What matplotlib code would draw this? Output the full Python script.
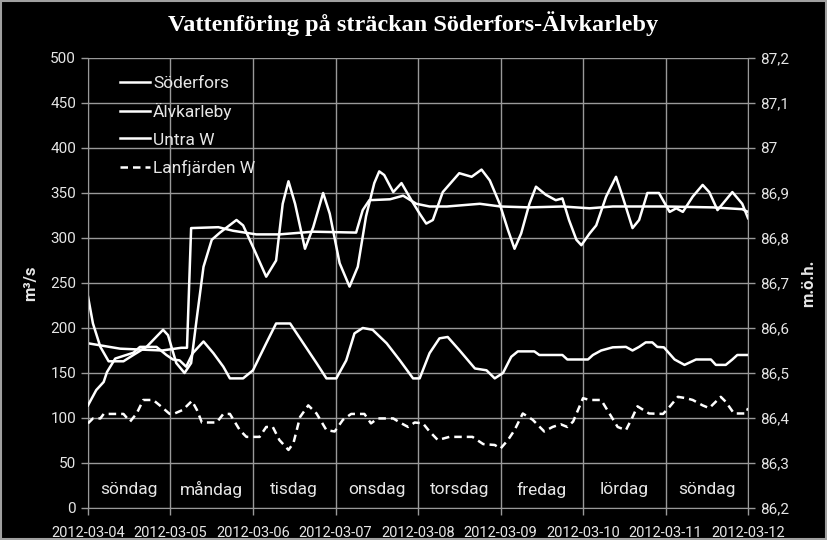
import numpy as np
import matplotlib
matplotlib.use("Agg")
import matplotlib.pyplot as plt
from matplotlib.ticker import FuncFormatter, MultipleLocator

# time in days from 2012-03-04 00:00
dates = ["2012-03-04", "2012-03-05", "2012-03-06", "2012-03-07", "2012-03-08",
         "2012-03-09", "2012-03-10", "2012-03-11", "2012-03-12"]
days = ["söndag", "måndag", "tisdag", "onsdag", "torsdag", "fredag", "lördag", "söndag"]

# Söderfors flow (m3/s)
t_sod = [0, 0.06, 0.15, 0.25, 0.43, 0.55, 0.71, 0.91, 0.97, 1.07, 1.17, 1.25, 1.32, 1.40,
         1.5, 1.6, 1.8, 1.88, 2.0, 2.16, 2.28, 2.36, 2.43, 2.51, 2.63, 2.73, 2.85, 2.93,
         3.05, 3.17, 3.27, 3.37, 3.47, 3.53, 3.59, 3.70, 3.80, 3.92, 4.02, 4.10, 4.18,
         4.30, 4.50, 4.65, 4.77, 4.87, 4.99, 5.09, 5.17, 5.25, 5.35, 5.43, 5.55, 5.67,
         5.75, 5.83, 5.92, 5.98, 6.08, 6.16, 6.28, 6.40, 6.48, 6.60, 6.68, 6.78, 6.92,
         7.05, 7.13, 7.21, 7.33, 7.45, 7.53, 7.63, 7.81, 7.93, 8.0]
q_sod = [235, 205, 179, 163, 163, 170, 179, 198, 192, 161, 150, 161, 212, 268,
         298, 306, 320, 314, 290, 257, 275, 338, 363, 338, 288, 312, 350, 327,
         272, 246, 268, 324, 361, 374, 370, 351, 361, 342, 327, 316, 320,
         351, 372, 368, 376, 364, 338, 309, 288, 305, 338, 357, 348, 342,
         344, 320, 298, 292, 305, 314, 346, 368, 346, 311, 320, 350, 350,
         329, 333, 329, 346, 359, 351, 331, 351, 338, 322]

# Älvkarleby flow (m3/s)
t_alv = [0, 0.39, 0.9, 1.13, 1.2, 1.25, 1.58, 1.76, 2.04, 2.32, 2.73, 3.25, 3.33,
         3.41, 3.66, 3.82, 3.98, 4.14, 4.35, 4.75, 5.0, 5.35, 5.75, 6.08, 6.36, 7.0,
         7.57, 7.93, 8.0]
q_alv = [183, 177, 175, 178, 178, 311, 312, 308, 304, 304, 307, 306, 331,
         342, 343, 347, 338, 335, 335, 338, 335, 334, 335, 333, 335, 335,
         334, 332, 329]

# Untra W water level (m.ö.h.)
t_unt = [0, 0.10, 0.19, 0.23, 0.33, 0.43, 0.55, 0.63, 0.83, 0.95, 1.03, 1.11, 1.19,
         1.27, 1.40, 1.52, 1.64, 1.72, 1.88, 2.0, 2.16, 2.28, 2.45, 2.61, 2.77, 2.89,
         3.01, 3.13, 3.23, 3.33, 3.45, 3.62, 3.78, 3.94, 4.02, 4.14, 4.26, 4.36, 4.50,
         4.69, 4.83, 4.93, 5.03, 5.13, 5.21, 5.41, 5.47, 5.75, 5.81, 6.06, 6.12, 6.22,
         6.36, 6.52, 6.60, 6.68, 6.76, 6.84, 6.90, 6.98, 7.11, 7.23, 7.37, 7.55, 7.61,
         7.73, 7.81, 7.87, 8.0]
h_unt = [86.428, 86.462, 86.48, 86.502, 86.532, 86.538, 86.545, 86.558, 86.558, 86.54,
         86.53, 86.528, 86.514, 86.544, 86.57, 86.544, 86.514, 86.488, 86.488, 86.506,
         86.566, 86.61, 86.61, 86.566, 86.522, 86.488, 86.488, 86.528, 86.588, 86.60,
         86.596, 86.566, 86.528, 86.488, 86.488, 86.544, 86.577, 86.58, 86.551, 86.51,
         86.506, 86.488, 86.50, 86.536, 86.548, 86.548, 86.54, 86.54, 86.53, 86.53,
         86.54, 86.55, 86.557, 86.558, 86.55, 86.558, 86.568, 86.568, 86.558, 86.557,
         86.53, 86.518, 86.53, 86.53, 86.518, 86.518, 86.53, 86.54, 86.54]

# Lanfjärden W water level (m.ö.h.)
t_lan = [0, 0.06, 0.15, 0.19, 0.43, 0.51, 0.59, 0.67, 0.79, 0.87, 0.99, 1.05, 1.15,
         1.26, 1.32, 1.38, 1.56, 1.64, 1.72, 1.84, 1.92, 2.08, 2.16, 2.24, 2.32, 2.43,
         2.49, 2.57, 2.67, 2.77, 2.89, 2.99, 3.09, 3.19, 3.35, 3.43, 3.51, 3.70, 3.78,
         3.88, 3.96, 4.06, 4.14, 4.24, 4.38, 4.66, 4.79, 4.93, 5.0, 5.09, 5.17, 5.27,
         5.39, 5.53, 5.63, 5.73, 5.81, 5.88, 6.0, 6.08, 6.22, 6.32, 6.42, 6.52, 6.60,
         6.66, 6.80, 6.97, 7.05, 7.15, 7.25, 7.33, 7.45, 7.53, 7.67, 7.73, 7.83, 7.98, 8.0]
h_lan = [86.388, 86.399, 86.399, 86.409, 86.409, 86.392, 86.41, 86.44, 86.44, 86.428,
         86.409, 86.41, 86.418, 86.438, 86.418, 86.39, 86.39, 86.409, 86.409, 86.373,
         86.358, 86.358, 86.38, 86.38, 86.351, 86.329, 86.344, 86.402, 86.428, 86.41,
         86.373, 86.37, 86.396, 86.409, 86.409, 86.388, 86.399, 86.399, 86.39, 86.38,
         86.39, 86.388, 86.37, 86.351, 86.358, 86.358, 86.342, 86.34, 86.332, 86.351,
         86.373, 86.41, 86.396, 86.37, 86.38, 86.386, 86.38, 86.392, 86.444, 86.44,
         86.44, 86.41, 86.38, 86.373, 86.402, 86.426, 86.41, 86.409, 86.425, 86.447,
         86.444, 86.44, 86.428, 86.422, 86.447, 86.436, 86.41, 86.41, 86.422]

grey = "#999999"
txt = "#e6e6e6"
plt.rcParams['font.family'] = ['Roboto', 'DejaVu Sans']

fig = plt.figure(figsize=(8.27, 5.40), dpi=100, facecolor="black")
ax = fig.add_axes([0.1064, 0.0593, 0.7981, 0.8333], facecolor="black")
ax2 = ax.twinx()

l1, = ax.plot(t_sod, q_sod, color="white", lw=1.8, label="Söderfors")
l2, = ax.plot(t_alv, q_alv, color="white", lw=1.8, label="Älvkarleby")
l3, = ax2.plot(t_unt, h_unt, color="white", lw=1.8, label="Untra W")
l4, = ax2.plot(t_lan, h_lan, color="white", lw=1.8, ls=(0, (3, 2)), label="Lanfjärden W")

ax.set_xlim(0, 8)
ax.set_ylim(0, 500)
ax2.set_ylim(86.2, 87.2)
ax.yaxis.set_major_locator(MultipleLocator(50))
ax2.yaxis.set_major_locator(MultipleLocator(0.1))
ax2.yaxis.set_major_formatter(FuncFormatter(
    lambda v, p: ("%.1f" % v).replace(".", ",").replace(",0", "")))
ax.set_xticks(range(len(dates)))
ax.set_xticklabels(dates, fontsize=10.5, color=txt)

ax.grid(True, color=grey, lw=1)
for a in (ax, ax2):
    for s in a.spines.values():
        s.set_visible(False)
    a.tick_params(colors=grey, labelcolor=txt, labelsize=11, length=5, width=1)
ax.spines["left"].set_visible(True)
ax.spines["left"].set_color(grey)
ax.spines["bottom"].set_visible(True)
ax.spines["bottom"].set_color(grey)
ax2.spines["right"].set_visible(True)
ax2.spines["right"].set_color(grey)
ax.tick_params(axis="x", pad=8, labelsize=10.5)

for i, d in enumerate(days):
    ax.text(i + 0.5, 20, d, ha="center", va="center", color=txt, fontsize=12.5)

ax.set_ylabel("m³/s", color=txt, fontsize=12, fontweight="bold", labelpad=9)
ax2.set_ylabel("m.ö.h.", color=txt, fontsize=12, fontweight="bold", labelpad=9)

leg = ax.legend(handles=[l1, l2, l3, l4], loc="upper left", bbox_to_anchor=(0.025, 0.995),
                frameon=False, fontsize=12.5, labelspacing=0.7, handlelength=1.7,
                handletextpad=0.2)
for t in leg.get_texts():
    t.set_color(txt)

fig.text(0.5, 0.956, "Vattenföring på sträckan Söderfors-Älvkarleby", ha="center", va="center",
         color="white", fontsize=17.5, fontweight="bold",
         family=["Liberation Serif", "DejaVu Serif"])

fig.patches.append(plt.Rectangle((0.001, 0.001), 0.998, 0.998, transform=fig.transFigure,
                                 fill=False, edgecolor="#a0a0a0", lw=1.5))

fig.savefig("out.png", dpi=100, facecolor="black")
